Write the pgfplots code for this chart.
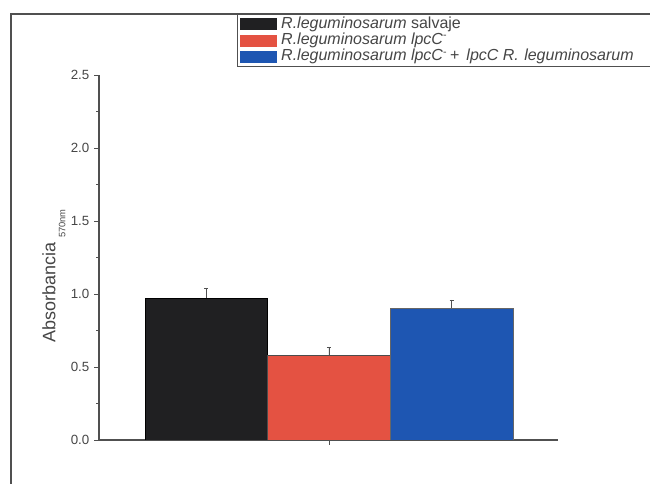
\documentclass[border=0pt]{standalone}
\usepackage{pgfplots}
\pgfplotsset{compat=1.18}
\usepackage{fontspec}
\setmainfont{Liberation Sans}

\definecolor{barblack}{RGB}{32,32,34}
\definecolor{barred}{RGB}{228,82,66}
\definecolor{barblue}{RGB}{30,86,178}
\definecolor{axisgray}{RGB}{80,80,80}
\definecolor{textgray}{RGB}{70,70,70}

\begin{document}
\begin{tikzpicture}
\useasboundingbox (0,0) rectangle (487.5pt,363pt);
% outer frame (left and top edges; the rest runs off the page)
\draw[axisgray, line width=1.4pt] (8.25pt,-10pt) -- (8.25pt,352.5pt) -- (500pt,352.5pt);
\begin{axis}[
  at={(74.25pt,33pt)}, anchor=south west,
  scale only axis,
  width=344.25pt, height=273.75pt,
  xmin=-1.874, xmax=1.866,
  ymin=0, ymax=2.5,
  axis x line=bottom, axis y line=left,
  axis line style={-, axisgray, line width=0.9pt},
  every tick/.style={axisgray, line width=0.7pt},
  tick align=outside,
  major tick length=3.75pt, minor tick length=2.25pt,
  xtick={0}, xticklabels={},
  ytick={0,0.5,1,1.5,2,2.5},
  minor y tick num=1,
  yticklabel style={/pgf/number format/.cd, fixed, fixed zerofill, precision=1, assume math mode=true},
  ticklabel style={font=\fontsize{10}{12}\selectfont, text=textgray},
  ylabel={Absorbancia\hspace{3pt}\raisebox{-7.5pt}{\fontsize{7}{7}\selectfont 570nm}},
  ylabel style={at={(axis description cs:-0.098,0.45)}, anchor=center, font=\fontsize{13.5}{15}\selectfont, text=textgray},
  ybar, bar width=1, bar shift=0pt,
  error bars/y dir=plus, error bars/y explicit,
  error bars/error bar style={axisgray, line width=0.6pt},
  error bars/error mark options={rotate=90, mark size=1.5pt, axisgray, line width=0.6pt},
  every axis plot post/.append style={
    legend image code/.code={\fill[##1, draw=none] (0pt,-4.5pt) rectangle (27.75pt,4.5pt);}
  },
  legend style={
    at={(rel axis cs:0.3007,1.167)}, anchor=north west,
    draw=axisgray, line width=0.8pt, fill=white,
    font=\fontsize{12}{13}\selectfont,
    text=textgray,
    inner xsep=2pt, inner ysep=1.6pt,
    row sep=0.6pt, column sep=3pt,
    nodes={inner sep=0pt, text height=8.8pt, text depth=2.8pt},
  },
  legend cell align=left,
]
\addplot[fill=barblack, draw=black, line width=0.4pt]
  coordinates {(-1,0.973) +- (0,0.067)};
\addlegendentry{\textit{R.leguminosarum} salvaje\hspace*{4pt}}
\addplot[fill=barred, draw=black!70, line width=0.4pt]
  coordinates {(0,0.582) +- (0,0.055)};
\addlegendentry{\textit{R.leguminosarum lpcC}\textsuperscript{-}}
\addplot[fill=barblue, draw=black!60, line width=0.4pt]
  coordinates {(1,0.904) +- (0,0.055)};
\addlegendentry{\textit{R.leguminosarum lpcC}\textsuperscript{-}\,+\, \textit{lpcC R.\,\,leguminosarum}\hspace*{12pt}}
\end{axis}
\end{tikzpicture}
\end{document}
